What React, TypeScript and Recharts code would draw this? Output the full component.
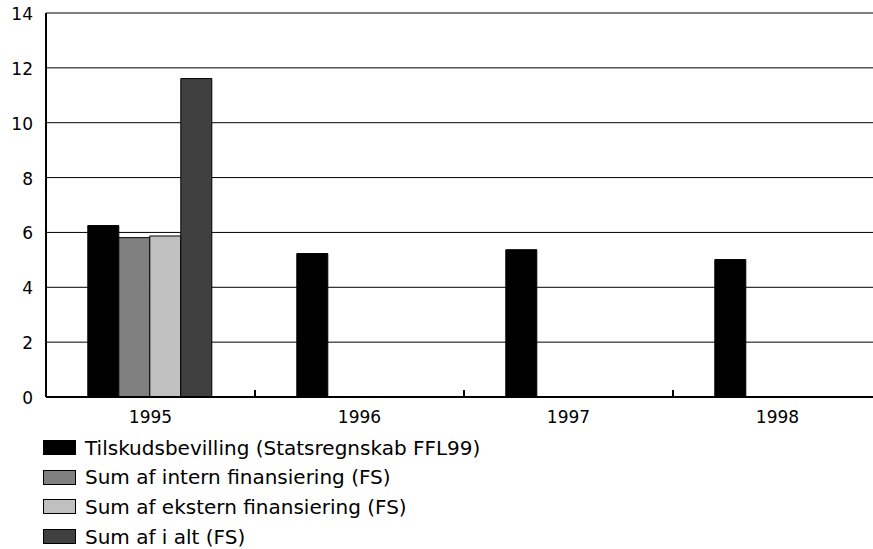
import { Bar, BarChart, CartesianGrid, Legend, XAxis, YAxis } from "recharts";

const years = ["1995", "1996", "1997", "1998"];
const tilskud = [6.25, 5.23, 5.37, 5.01];
const intern = [5.81, null, null, null];
const ekstern = [5.87, null, null, null];
const iAlt = [11.61, null, null, null];
const yTicks = [0, 2, 4, 6, 8, 10, 12, 14];

const series = [
  { key: "tilskud", name: "Tilskudsbevilling (Statsregnskab FFL99)", color: "#000000" },
  { key: "intern", name: "Sum af intern finansiering (FS)", color: "#808080" },
  { key: "ekstern", name: "Sum af ekstern finansiering (FS)", color: "#c0c0c0" },
  { key: "iAlt", name: "Sum af i alt (FS)", color: "#404040" },
];

const data = years.map((y, i) => ({
  year: y,
  tilskud: tilskud[i],
  intern: intern[i],
  ekstern: ekstern[i],
  iAlt: iAlt[i],
}));

const FONT = "'DejaVu Sans', sans-serif";

function YTick(props: any) {
  const { x, y, payload } = props;
  return (
    <text x={x} y={y + 7} textAnchor="end" fontSize={17} fill="#000" fontFamily={FONT}>
      {payload.value}
    </text>
  );
}

function XTick(props: any) {
  const { x, y, payload } = props;
  const half = payload.offset ?? 0;
  return (
    <g>
      <line x1={x + half} x2={x + half} y1={y - 15} y2={y - 7} stroke="#000" strokeWidth={2} />
      <text x={x} y={y + 18} textAnchor="middle" fontSize={17} fill="#000" fontFamily={FONT}>
        {payload.value}
      </text>
    </g>
  );
}

function LegendBox() {
  return (
    <div style={{ height: 122, paddingTop: 6, boxSizing: "border-box", fontFamily: FONT }}>
      {series.map((s) => (
        <div
          key={s.key}
          style={{ display: "flex", alignItems: "center", height: 29.6, paddingLeft: 43 }}
        >
          <span
            style={{
              display: "inline-block",
              width: 31,
              height: 13,
              background: s.color,
              border: "1px solid #000",
              marginRight: 9,
            }}
          />
          <span style={{ fontSize: 20, color: "#000" }}>{s.name}</span>
        </div>
      ))}
    </div>
  );
}

export default function App() {
  return (
    <div
      style={{
        position: "fixed",
        left: 0,
        top: 0,
        width: 873,
        height: 549,
        overflow: "hidden",
        background: "#fff",
      }}
    >
      <BarChart
        width={885}
        height={549}
        data={data}
        margin={{ top: 13, right: 3, left: 0, bottom: 0 }}
        barCategoryGap="20%"
        barGap={0}
      >
        <CartesianGrid vertical={false} stroke="#000" strokeWidth={1} />
        <XAxis
          dataKey="year"
          height={30}
          tickLine={false}
          axisLine={{ stroke: "#000", strokeWidth: 2 }}
          tick={<XTick />}
          interval={0}
        />
        <YAxis
          width={46}
          domain={[0, 14]}
          ticks={yTicks}
          tickLine={false}
          tickMargin={13}
          tickSize={0}
          axisLine={{ stroke: "#000", strokeWidth: 2 }}
          tick={<YTick />}
        />
        <Legend verticalAlign="bottom" content={() => <LegendBox />} />
        {series.map((s) => (
          <Bar
            key={s.key}
            dataKey={s.key}
            name={s.name}
            fill={s.color}
            stroke="#000"
            strokeWidth={1}
            isAnimationActive={false}
          />
        ))}
      </BarChart>
    </div>
  );
}
